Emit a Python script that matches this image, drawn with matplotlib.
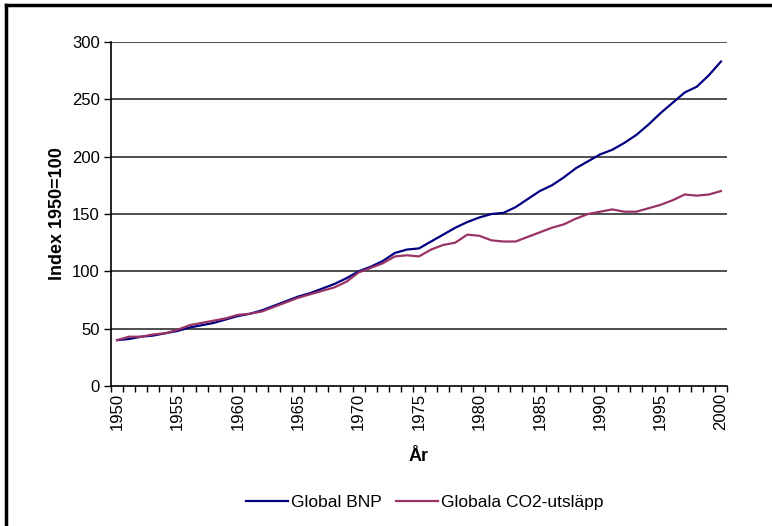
import numpy as np
from matplotlib import pyplot as plt
from matplotlib.lines import Line2D
from matplotlib.ticker import MultipleLocator

plt.rcParams['font.family'] = 'Liberation Sans'
plt.rcParams['font.size'] = 12

# data
years = list(range(1950, 2001))
bnp = [40, 41, 43, 44, 46, 48, 51, 53, 55, 58,
       61, 63, 66, 70, 74, 78, 81, 85, 89, 94,
       100, 104, 109, 116, 119, 120, 126, 132, 138, 143,
       147, 150, 151, 156, 163, 170, 175, 182, 190, 196,
       202, 206, 212, 219, 228, 238, 247, 256, 261, 271,
       283]
co2 = [40, 43, 43, 45, 46, 49, 53, 55, 57, 59,
       62, 63, 65, 69, 73, 77, 80, 83, 86, 91,
       99, 103, 107, 113, 114, 113, 119, 123, 125, 132,
       131, 127, 126, 126, 130, 134, 138, 141, 146, 150,
       152, 154, 152, 152, 155, 158, 162, 167, 166, 167,
       170]
xticks = list(range(1950, 2001, 5))

fig = plt.figure(figsize=(7.72, 5.26), dpi=100)
ax = fig.add_axes([111/772, 1-386/526, 616/772, 344/526])

ax.plot(years, bnp, color='#000080', linewidth=1.6, label='Global BNP')
ax.plot(years, co2, color='#993366', linewidth=1.6, label='Globala CO2-utsläpp')

ax.set_xlim(1949.5, 2000.5)
ax.set_ylim(0, 300)
ax.set_yticks(range(0, 301, 50))
ax.set_xticks(xticks)
ax.set_xticklabels([str(y) for y in xticks], rotation=90)
ax.xaxis.set_minor_locator(MultipleLocator(1, offset=0.5))
ax.tick_params(axis='x', which='major', length=0, pad=5)
ax.tick_params(axis='x', which='minor', length=4, width=1, direction='out')
ax.tick_params(axis='y', length=5, width=1, direction='out', pad=3)

for v in range(50, 301, 50):
    ax.axhline(v, color='#303030', linewidth=1.2, zorder=0)

ax.spines['top'].set_visible(False)
ax.spines['right'].set_visible(False)
ax.spines['left'].set_linewidth(1.2)
ax.spines['bottom'].set_linewidth(1.2)

ax.set_xlabel('År', fontweight='bold', fontsize=13, labelpad=13)
ax.set_ylabel('Index 1950=100', fontweight='bold', fontsize=13, labelpad=4)

fig.legend(loc='center', bbox_to_anchor=(425/772, 1-502/526), ncol=2,
           frameon=False, fontsize=12.5, handlelength=2.4, columnspacing=0.8,
           handletextpad=0.2)

# outer frame (top and left edges visible)
fig.add_artist(Line2D([6/772, 1], [1-5/526, 1-5/526], color='black', linewidth=2.5))
fig.add_artist(Line2D([6/772, 6/772], [0, 1-5/526], color='black', linewidth=2.5))

plt.savefig('out.png', dpi=100)
